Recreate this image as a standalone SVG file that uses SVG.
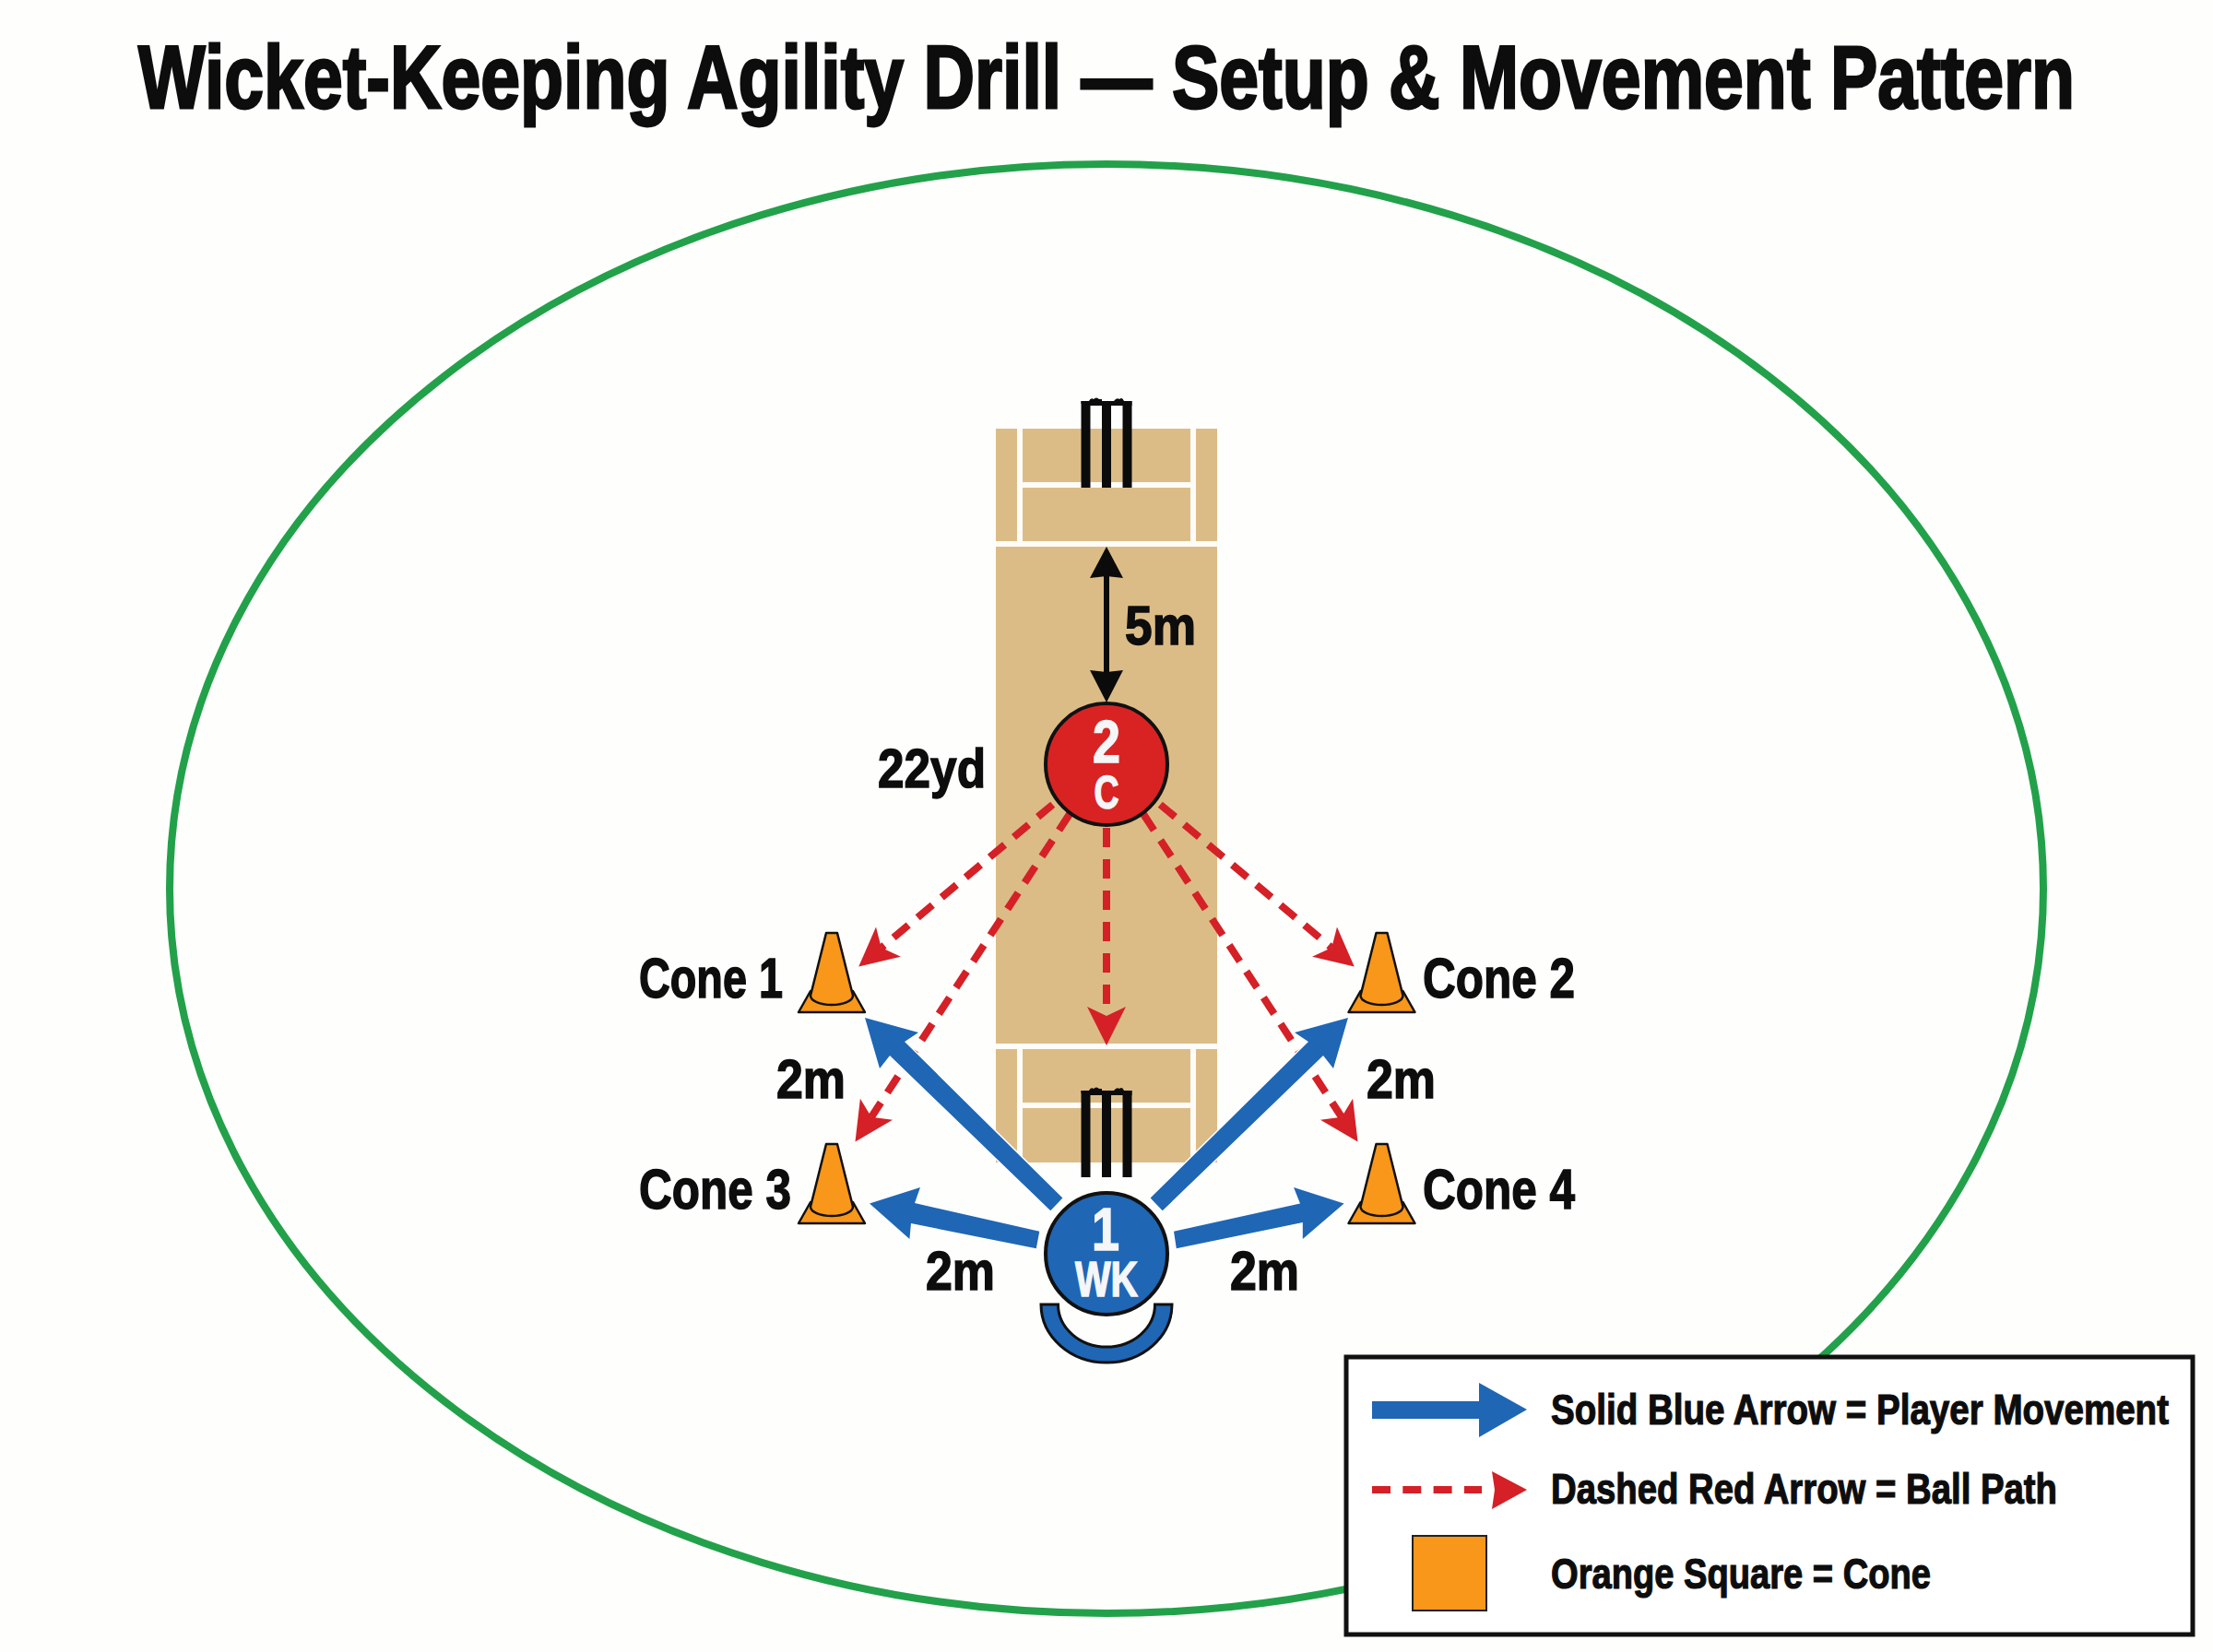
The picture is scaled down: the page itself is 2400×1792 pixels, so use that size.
<svg xmlns="http://www.w3.org/2000/svg" width="2400" height="1792" viewBox="0 0 2400 1792">
<style>
text{font-family:"Liberation Sans Narrow","Liberation Sans",Arial,sans-serif;font-weight:700;fill:#0d0d0d;stroke:#0d0d0d;stroke-width:1.5px}
.title{font-size:76px;stroke-width:2.2px}
.lab{font-size:62px}
.dim{font-size:60px}
.leg{font-size:38px;stroke-width:1px}
.w{fill:#f4f6f8;stroke:#f4f6f8;text-anchor:middle}
.ball{fill:none;stroke:#d42026;stroke-width:8;stroke-dasharray:21 13;marker-end:url(#rh)}
.run{fill:#1f66b5;stroke:#fff;stroke-width:3;paint-order:stroke}
.wl{fill:#fdfcf8}
.st{fill:#0b0b0b}
.cone{fill:#f8971a;stroke:#111;stroke-width:2.500;stroke-linejoin:round}
</style>
<defs>
<marker id="rh" markerUnits="userSpaceOnUse" markerWidth="44" markerHeight="46" viewBox="0 0 44 46" refX="10" refY="23" orient="auto"><path d="M0 2L42 23L0 44L10 23Z" fill="#d42026"/></marker>
<g id="cone-shape">
<path class="cone" d="M-36 86L-23 63H23L36 86Z"/>
<path class="cone" d="M-6 0H6L23 68A23 10 0 0 1 -23 68Z"/>
</g>
<g id="wicket">
<rect class="st" width="10" height="94" x="-27.5" y="0"/>
<rect class="st" width="10" height="94" x="-5" y="0"/>
<rect class="st" width="10" height="94" x="17.5" y="0"/>
<path class="st" d="M-27.5 0H-19Q-17 -4 -14 -2Q-11 -5 -8 -2H-5V5H-20V3H-27.5ZM5 0H8Q11 -4 14 -2Q17 -5 19 0H27.5V5H5Z"/>
</g>
</defs>
<rect width="2400" height="1792" fill="#fefefc"/>
<ellipse id="boundary" cx="1200" cy="964" rx="1016" ry="786" fill="none" stroke="#22a14a" stroke-width="8"/>
<g id="pitch">
<rect x="1080" y="465" width="240" height="796" fill="#dcbc86"/>
<rect class="wl" x="1080" y="587" width="240" height="6"/>
<rect class="wl" x="1103" y="465" width="6" height="122"/>
<rect class="wl" x="1291" y="465" width="6" height="122"/>
<rect class="wl" x="1109" y="523" width="182" height="6"/>
<rect class="wl" x="1080" y="1132" width="240" height="6"/>
<rect class="wl" x="1103" y="1138" width="6" height="123"/>
<rect class="wl" x="1291" y="1138" width="6" height="123"/>
<rect class="wl" x="1109" y="1196" width="182" height="6"/>
<use href="#wicket" x="1200" y="435"/>
<use href="#wicket" x="1200" y="1183"/>
</g>
<g id="connectors">
<line class="ball" x1="1141.7" y1="872.7" x2="955.8" y2="1028.1"/>
<line class="ball" x1="1160" y1="883" x2="945" y2="1211.7"/>
<line class="ball" x1="1200" y1="898" x2="1200" y2="1102"/>
<line class="ball" x1="1258.3" y1="872.7" x2="1444.2" y2="1028.1"/>
<line class="ball" x1="1240" y1="883" x2="1455" y2="1211.7"/>
<polygon class="run" points="1152.4,1299.6 1139.3,1313.3 965,1145 954,1159 938,1104 996,1120 981,1130"/>
<polygon class="run" points="1127.3,1335.7 1123.8,1354.3 988,1327 986.4,1344 943,1305.4 998,1288 992,1305"/>
<polygon class="run" points="1247.6,1299.6 1260.7,1313.3 1435,1145 1446,1159 1462,1104 1404,1120 1419,1130"/>
<polygon class="run" points="1273,1335.7 1275.8,1354.3 1412.8,1326 1412.8,1344 1457.6,1305.4 1403,1288 1410,1305.4"/>
<path d="M1200 625V729" stroke="#0b0b0b" stroke-width="6"/>
<path d="M1200 593L1218 627L1200 625L1182 627Z M1200 762L1218 727L1200 729L1182 727Z" fill="#0b0b0b"/>
</g>
<g id="node-c">
<circle cx="1200" cy="829" r="66" fill="#d92323" stroke="#111" stroke-width="4"/>
<text class="w" x="1200" y="827" font-size="64" textLength="30" lengthAdjust="spacingAndGlyphs">2</text>
<text class="w" x="1200" y="877" font-size="50" textLength="27" lengthAdjust="spacingAndGlyphs">C</text>
</g>
<g id="node-wk">
<circle cx="1200" cy="1360" r="66" fill="#1f66b5" stroke="#111" stroke-width="4"/>
<text class="w" x="1199" y="1356" font-size="64" textLength="30" lengthAdjust="spacingAndGlyphs">1</text>
<text class="w" x="1200" y="1406" font-size="54" textLength="68" lengthAdjust="spacingAndGlyphs">WK</text>
<path d="M1129 1415H1147.500A52.500 46 0 0 0 1252.500 1415H1271A71 63 0 0 1 1129 1415Z" fill="#1f66b5" stroke="#111" stroke-width="3"/>
</g>
<g id="cone-1"><use href="#cone-shape" x="902" y="1012"/><text class="lab" x="693" y="1081.500" textLength="156" lengthAdjust="spacingAndGlyphs">Cone 1</text></g>
<g id="cone-2"><use href="#cone-shape" x="1498.500" y="1012"/><text class="lab" x="1543" y="1081.500" textLength="165" lengthAdjust="spacingAndGlyphs">Cone 2</text></g>
<g id="cone-3"><use href="#cone-shape" x="902" y="1241"/><text class="lab" x="693" y="1311" textLength="165" lengthAdjust="spacingAndGlyphs">Cone 3</text></g>
<g id="cone-4"><use href="#cone-shape" x="1498.500" y="1241"/><text class="lab" x="1543" y="1311" textLength="165" lengthAdjust="spacingAndGlyphs">Cone 4</text></g>
<g id="labels">
<text class="dim" x="842" y="1190.500" textLength="75" lengthAdjust="spacingAndGlyphs">2m</text>
<text class="dim" x="1482" y="1190.500" textLength="75" lengthAdjust="spacingAndGlyphs">2m</text>
<text class="dim" x="1004" y="1399" textLength="75" lengthAdjust="spacingAndGlyphs">2m</text>
<text class="dim" x="1334" y="1399" textLength="75" lengthAdjust="spacingAndGlyphs">2m</text>
<text class="dim" x="1220" y="699" textLength="77" lengthAdjust="spacingAndGlyphs">5m</text>
<text class="dim" x="952" y="854" textLength="117" lengthAdjust="spacingAndGlyphs">22yd</text>
</g>
<text id="title" class="title" transform="translate(150 116.500) scale(1 1.263)" textLength="2100" lengthAdjust="spacingAndGlyphs">Wicket-Keeping Agility Drill — Setup &amp; Movement Pattern</text>
<g id="legend">
<rect x="1460" y="1472" width="918" height="301" fill="#fff" stroke="#111" stroke-width="5"/>
<polygon points="1488,1520 1604,1520 1604,1500 1656,1529 1604,1559 1604,1539 1488,1539" fill="#1f66b5"/>
<path d="M1488 1616H1607" stroke="#d42026" stroke-width="8" stroke-dasharray="20 13.300" fill="none"/>
<polygon points="1618,1596 1656,1616 1618,1637 1621,1616" fill="#d42026"/>
<rect x="1532" y="1666" width="80" height="81" fill="#f8971a" stroke="#222" stroke-width="2"/>
<text class="leg" transform="translate(1682 1545) scale(1 1.237)" textLength="670" lengthAdjust="spacingAndGlyphs">Solid Blue Arrow = Player Movement</text>
<text class="leg" transform="translate(1682 1631) scale(1 1.237)" textLength="549" lengthAdjust="spacingAndGlyphs">Dashed Red Arrow = Ball Path</text>
<text class="leg" transform="translate(1682 1723) scale(1 1.237)" textLength="412" lengthAdjust="spacingAndGlyphs">Orange Square = Cone</text>
</g>
</svg>
